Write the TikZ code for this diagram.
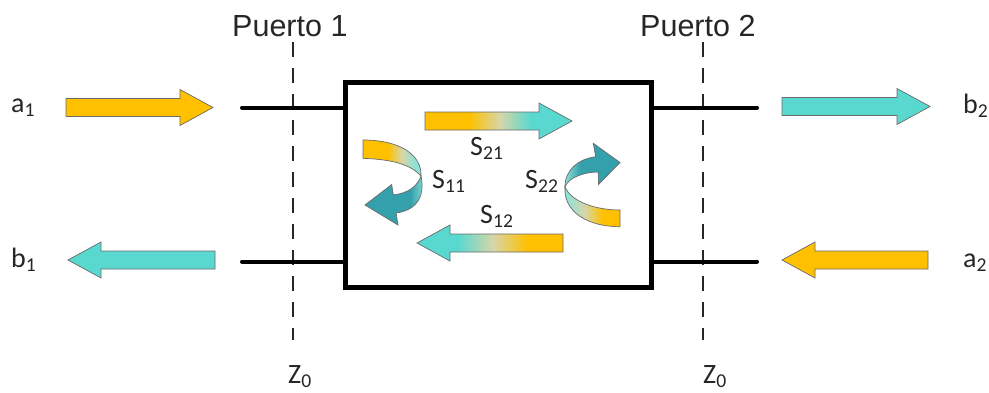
\documentclass[tikz,border=0pt]{standalone}
\usepackage{fontspec}
\setmainfont{Carlito}
\newfontfamily\portfont{Liberation Sans}

\definecolor{gold}{HTML}{FFC000}
\definecolor{aqua}{HTML}{59D8CF}
\definecolor{aqualight}{HTML}{8FE0D8}
\definecolor{pale}{HTML}{D6D6A8}
\definecolor{deepteal}{HTML}{34A0AC}
\definecolor{rim}{HTML}{6A6A6A}

% colour ramps for the block arrows (inner 25bp--75bp spans the shape)
\pgfdeclarehorizontalshading{goldtoaqua}{100bp}{color(0bp)=(gold); color(40bp)=(gold); color(50.5bp)=(pale); color(61bp)=(aqua); color(100bp)=(aqua)}
\pgfdeclarehorizontalshading{aquatogold}{100bp}{color(0bp)=(aqua); color(39bp)=(aqua); color(51bp)=(pale); color(63bp)=(gold); color(100bp)=(gold)}
\pgfdeclarehorizontalshading{loopgoldL}{100bp}{color(0bp)=(gold); color(46bp)=(gold); color(58bp)=(pale); color(69bp)=(aqualight); color(100bp)=(aqualight)}
\pgfdeclarehorizontalshading{loopdarkL}{100bp}{color(0bp)=(deepteal); color(63bp)=(deepteal); color(75bp)=(aqualight); color(100bp)=(aqualight)}
\pgfdeclarehorizontalshading{loopgoldR}{100bp}{color(0bp)=(aqualight); color(28bp)=(aqualight); color(44bp)=(pale); color(60bp)=(gold); color(100bp)=(gold)}
\pgfdeclarehorizontalshading{loopdarkR}{100bp}{color(0bp)=(aqualight); color(25bp)=(aqualight); color(39bp)=(deepteal); color(100bp)=(deepteal)}

% straight block arrow: style, tail x, tip x, centre y
\newcommand\blockarrow[4]{%
  \pgfmathsetmacro\headx{#3-33*sign(#3-#2)}%
  \path[#1] (#2,#4-9) -- (\headx,#4-9) -- (\headx,#4-18) -- (#3,#4)
    -- (\headx,#4+18) -- (\headx,#4+9) -- (#2,#4+9) -- cycle;}

\tikzset{
  wire/.style={line width=4pt, line cap=round},
  portline/.style={line width=2pt, dash pattern=on 15pt off 11pt, draw=black!85},
  twoport/.style={draw, line width=4.5pt, minimum width=306pt, minimum height=205pt, outer sep=0pt, inner sep=0pt},
  shapeline/.style={draw=rim, line width=0.7pt},
  goldarrow/.style={shapeline, fill=gold},
  aquaarrow/.style={shapeline, fill=aqua},
  lbl/.style={font=\fontsize{28}{30}\selectfont, inner sep=0pt, anchor=base west, text=black!85},
  portlbl/.style={font=\portfont\fontsize{30.5}{32}\selectfont, inner sep=0pt, anchor=base west, text=black!85},
}

\begin{document}
\begin{tikzpicture}[x=1pt, y=-1pt]
  \fill[white] (0,0) rectangle (989,392);
  \useasboundingbox (0,0) rectangle (989,392);

  % port reference planes
  \coordinate (d1t) at (293,42);  \coordinate (d1b) at (293,340);
  \coordinate (d2t) at (703,42);  \coordinate (d2b) at (703,340);
  \draw[portline] (d1t) -- (d1b);
  \draw[portline] (d2t) -- (d2b);
  \node[portlbl] (port1) at (232,36) {Puerto 1};
  \node[portlbl] (port2) at (640,36) {Puerto 2};

  % two-port network and its terminals
  \node[twoport] (box) at (498.5,185) {};
  \coordinate (w1) at (242,107.5);
  \coordinate (w2) at (242,261.5);
  \coordinate (w3) at (757,107.5);
  \coordinate (w4) at (757,261.5);
  \draw[wire] (w1) -- (w1 -| box.west);
  \draw[wire] (w2) -- (w2 -| box.west);
  \draw[wire] (box.east |- w3) -- (w3);
  \draw[wire] (box.east |- w4) -- (w4);

  % incident and reflected waves
  \blockarrow{goldarrow}{66}{213}{107.5}
  \blockarrow{aquaarrow}{215}{68}{260}
  \blockarrow{aquaarrow}{782}{930}{106.5}
  \blockarrow{goldarrow}{928}{782}{260}

  \node[lbl] (a1) at (11,112) {a\textsubscript{1}};
  \node[lbl] (b1) at (11,267) {b\textsubscript{1}};
  \node[lbl] (b2) at (963,113) {b\textsubscript{2}};
  \node[lbl] (a2) at (963,267) {a\textsubscript{2}};

  % transmission arrows
  \blockarrow{shapeline, shading=goldtoaqua}{425}{572}{121}
  \blockarrow{shapeline, shading=aquatogold}{563}{417}{243}

  % reflection at port 1
  \path[shapeline, shading=loopgoldL] (363,140) .. controls (400,140) and (422,155) .. (421,176)
    .. controls (410,164) and (392,159.5) .. (363,158.3) -- cycle;
  \path[shapeline, shading=loopdarkL] (421,176) .. controls (425,195) and (418,210) .. (396.1,213)
    -- (398,225) -- (365,205) -- (391.7,184.5) -- (393.3,195)
    .. controls (408,193) and (417,187) .. (421,176) -- cycle;

  % reflection at port 2
  \path[shapeline, shading=loopgoldR] (565,186.7) .. controls (563,212) and (588,226.7) .. (620,226.7)
    -- (620,210) .. controls (596,210) and (571,202) .. (565,186.7) -- cycle;
  \path[shapeline, shading=loopdarkR] (565,186.7) .. controls (565,170) and (578,159) .. (595.7,156.7)
    -- (593.3,143.3) -- (620,162.5) -- (598.5,184.5) -- (598.2,172)
    .. controls (585,172) and (569,177) .. (565,186.7) -- cycle;

  \node[lbl] (s21) at (470,155) {S\textsubscript{21}};
  \node[lbl] (s11) at (432,188) {S\textsubscript{11}};
  \node[lbl] (s22) at (525,188) {S\textsubscript{22}};
  \node[lbl] (s12) at (480,223) {S\textsubscript{12}};

  % characteristic impedance labels
  \node[lbl] (z1) at (288,383) {Z\textsubscript{0}};
  \node[lbl] (z2) at (703,383) {Z\textsubscript{0}};
\end{tikzpicture}
\end{document}
